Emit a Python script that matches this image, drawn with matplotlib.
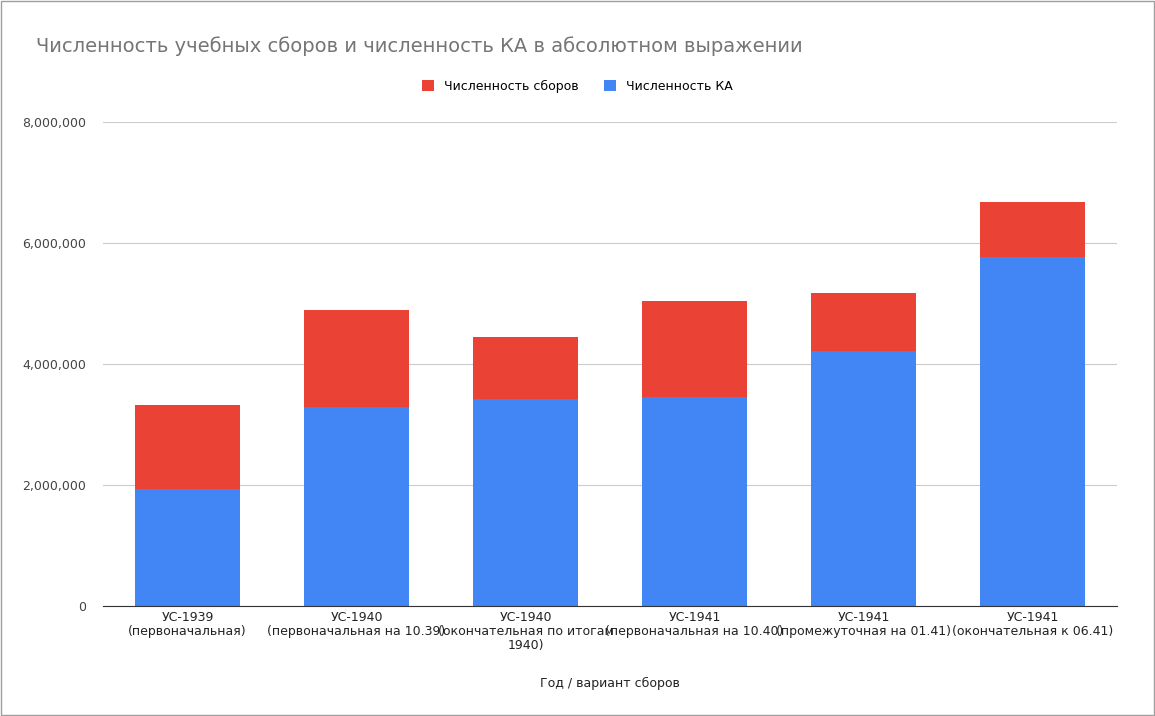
import matplotlib.pyplot as plt
from matplotlib.ticker import FuncFormatter

categories = ["УС-1939\n(первоначальная)", "УС-1940\n(первоначальная на 10.39)",
              "УС-1940\n(окончательная по итогам\n1940)", "УС-1941\n(первоначальная на 10.40)",
              "УС-1941\n(промежуточная на 01.41)", "УС-1941\n(окончательная к 06.41)"]
ka = [1934000, 3289000, 3421000, 3455000, 4215000, 5769000]
sbory = [1388000, 1604000, 1025000, 1587000, 959000, 909000]

fig = plt.figure(figsize=(11.55, 7.16), dpi=100)
ax = fig.add_axes([103/1155, 1-606/716, (1117-103)/1155, (606-122)/716])
x = range(len(categories))
ax.bar(x, ka, width=0.62, color="#4285f4", label="Численность КА", zorder=2)
ax.bar(x, sbory, width=0.62, bottom=ka, color="#ea4335", label="Численность сборов", zorder=2)
ax.set_xlim(-0.5, 5.5)
ax.set_ylim(0, 8000000)
ax.set_yticks([0, 2000000, 4000000, 6000000, 8000000])
ax.yaxis.set_major_formatter(FuncFormatter(lambda v, p: f"{int(v):,}"))
ax.grid(axis="y", color="#cccccc", linewidth=0.8, zorder=0)
for s in ["top", "right", "left"]:
    ax.spines[s].set_visible(False)
ax.spines["bottom"].set_color("#333333")
ax.tick_params(axis="y", length=0, labelsize=9, colors="#444444", pad=12)
ax.tick_params(axis="x", length=0, labelsize=9, colors="#222222")
ax.set_xticks(list(x))
ax.set_xticklabels(categories, linespacing=1.1)
ax.set_xlabel("Год / вариант сборов", fontsize=9, color="#222222", labelpad=18)
h, l = ax.get_legend_handles_labels()
fig.legend(h[::-1], l[::-1], loc="center", bbox_to_anchor=(0.5, 1-86/716), ncol=2,
           frameon=False, fontsize=9, handlelength=1.0, handleheight=1.0, columnspacing=2)
fig.text(36/1155, 1-46/716, "Численность учебных сборов и численность КА в абсолютном выражении",
         fontsize=14, color="#757575", va="center")
fig.patches.append(plt.Rectangle((0.001, 0.001), 0.998, 0.998, transform=fig.transFigure,
                                 fill=False, edgecolor="#9e9e9e", linewidth=1))
fig.savefig("out.png", dpi=100)
